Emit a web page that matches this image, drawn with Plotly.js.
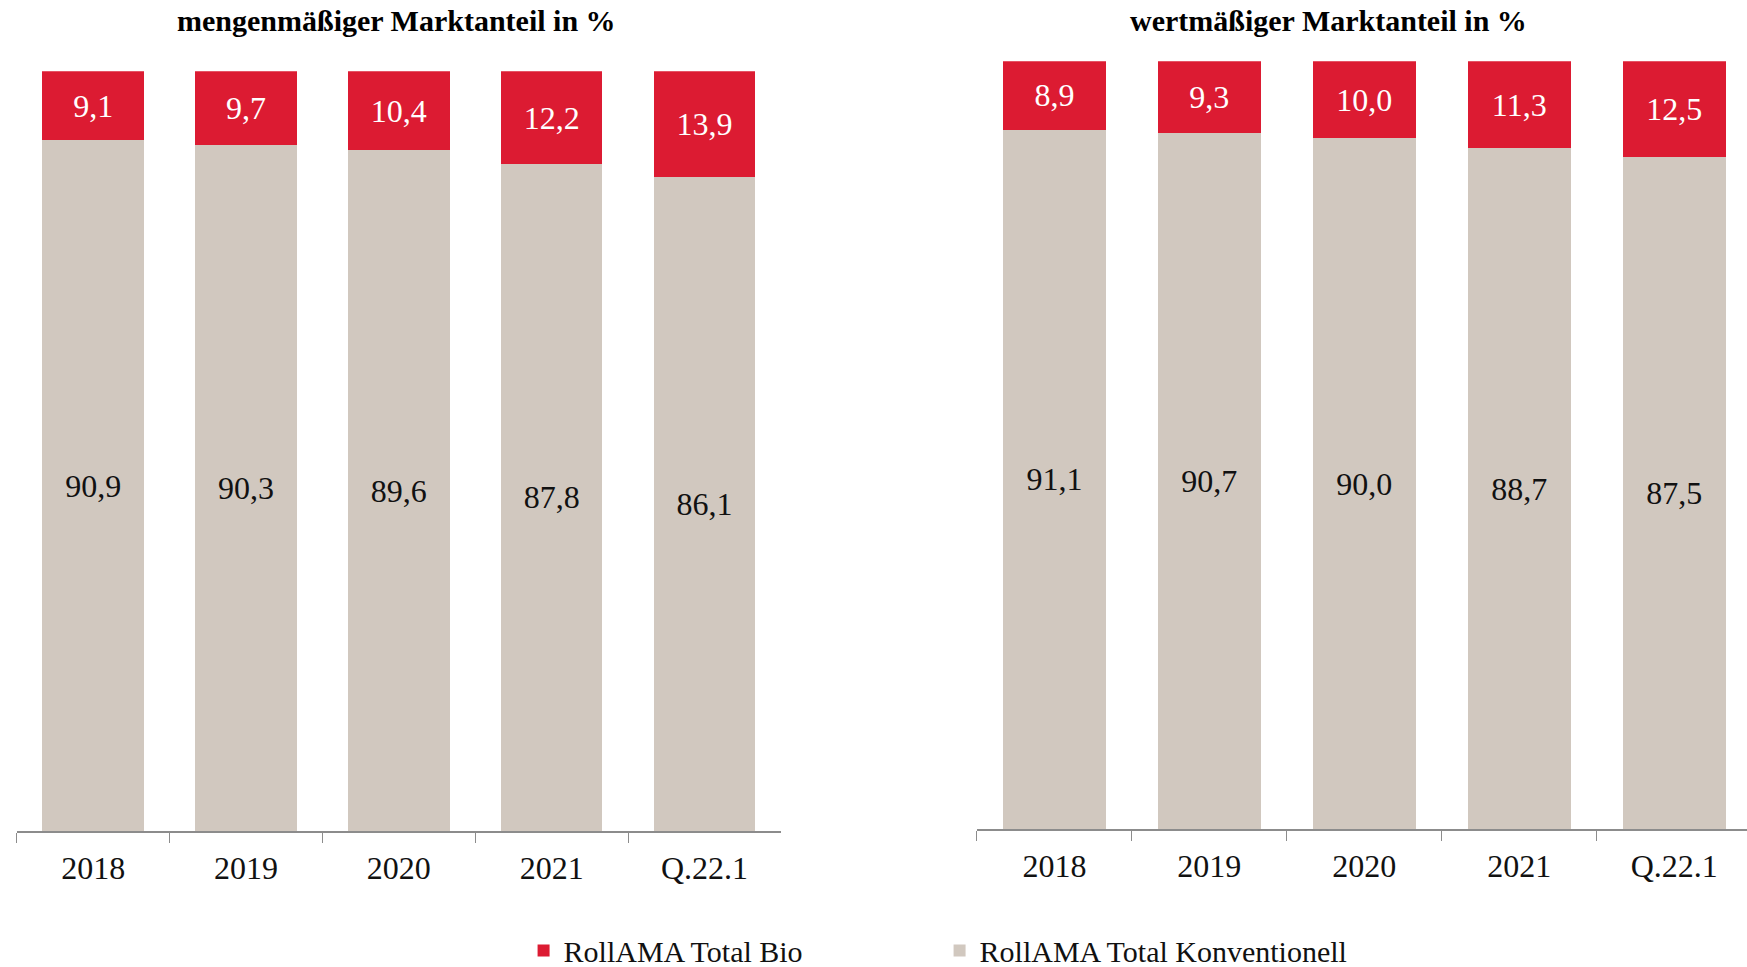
<!DOCTYPE html>
<html>
<head>
<meta charset="utf-8">
<script src="https://cdn.plot.ly/plotly-3.0.1.min.js"></script>
<style>html,body{margin:0;padding:0;background:#fff;}#chart{width:1747px;height:967px;}</style>
</head>
<body>
<div id="chart"></div>
<script>
const categories = ["2018", "2019", "2020", "2021", "Q.22.1"];
const mengeBio = [9.1, 9.7, 10.4, 12.2, 13.9];
const mengeKonv = [90.9, 90.3, 89.6, 87.8, 86.1];
const wertBio = [8.9, 9.3, 10.0, 11.3, 12.5];
const wertKonv = [91.1, 90.7, 90.0, 88.7, 87.5];
const seriesNames = ["RollAMA Total Bio", "RollAMA Total Konventionell"];
const titles = ["mengenmäßiger Marktanteil in %", "wertmäßiger Marktanteil in %"];

const RED = "rgb(220,27,50)";
const GRAY = "rgb(209,200,191)";
const FONT = "Liberation Serif";

function bar(y, name, color, textColor, xa, ya, show) {
  return {
    type: "bar", x: categories, y: y, name: name, xaxis: xa, yaxis: ya,
    marker: {color: color, line: {width: 0}},
    showlegend: show, legendgroup: name,
    texttemplate: "%{y:.1f}", textposition: "inside", insidetextanchor: "middle",
    constraintext: "none",
    textfont: {family: FONT, size: 32, color: textColor},
    hoverinfo: "skip"
  };
}

const data = [
  bar(mengeKonv, seriesNames[1], GRAY, "#111", "x", "y", true),
  bar(mengeBio, seriesNames[0], RED, "#fff", "x", "y", true),
  bar(wertKonv, seriesNames[1], GRAY, "#111", "x2", "y2", false),
  bar(wertBio, seriesNames[0], RED, "#fff", "x2", "y2", false)
];

const xaxisBase = {
  type: "category", showgrid: false, zeroline: false,
  showline: true, linecolor: "#8c8c8c", linewidth: 2,
  ticks: "outside", tickson: "boundaries", ticklen: 10, tickcolor: "#8c8c8c", tickwidth: 1,
  ticklabelstandoff: 8,
  tickfont: {family: FONT, size: 32, color: "#111"}, fixedrange: true
};
const yaxisBase = {
  range: [0, 100], visible: false, showgrid: false, zeroline: false, fixedrange: true
};

const layout = {
  width: 1747, height: 967,
  margin: {l: 0, r: 0, t: 0, b: 0, autoexpand: false},
  paper_bgcolor: "#fff", plot_bgcolor: "#fff",
  separators: ",.",
  barmode: "stack", bargap: 0.335,
  font: {family: FONT, size: 30, color: "#111"},
  xaxis: Object.assign({}, xaxisBase, {domain: [0.0096, 0.447], anchor: "y", range: [-0.5, 4.5]}),
  yaxis: Object.assign({}, yaxisBase, {domain: [0.1406, 0.9263], anchor: "x"}),
  xaxis2: Object.assign({}, xaxisBase, {domain: [0.5592, 1], anchor: "y2", range: [-0.5, 4.47]}),
  yaxis2: Object.assign({}, yaxisBase, {domain: [0.1427, 0.9366], anchor: "x2"}),
  showlegend: true,
  legend: {
    orientation: "h", traceorder: "reversed",
    x: 0.2997, xanchor: "left", y: 0.017, yanchor: "middle",
    font: {family: FONT, size: 30, color: "#111"},
    entrywidth: 371, entrywidthmode: "pixels",
    bgcolor: "rgba(0,0,0,0)", borderwidth: 0
  },
  annotations: [
    {text: "<b>" + titles[0] + "</b>", xref: "paper", yref: "paper", x: 396/1747, y: 1 - 20/967,
     xanchor: "center", yanchor: "middle", showarrow: false, font: {family: FONT, size: 30, color: "#000"}},
    {text: "<b>" + titles[1] + "</b>", xref: "paper", yref: "paper", x: 1328/1747, y: 1 - 20/967,
     xanchor: "center", yanchor: "middle", showarrow: false, font: {family: FONT, size: 30, color: "#000"}}
  ]
};

Plotly.newPlot("chart", data, layout, {displayModeBar: false, staticPlot: true});
</script>
</body>
</html>
